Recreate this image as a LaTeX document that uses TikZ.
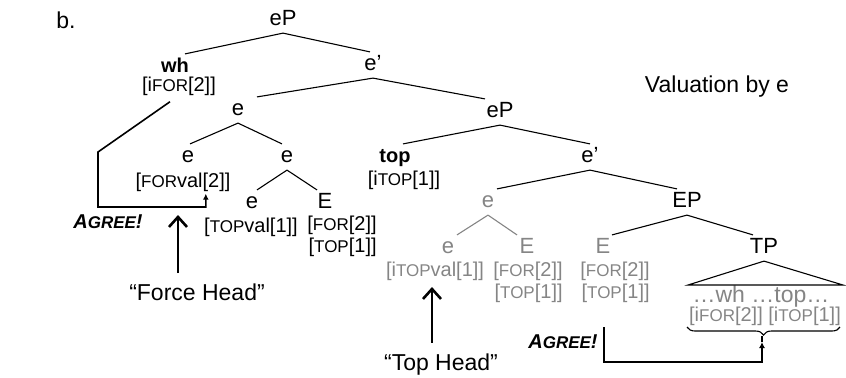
\documentclass[tikz,border=0pt]{standalone}
\usepackage{fontspec}
\setmainfont{Liberation Sans}
\usetikzlibrary{positioning, arrows.meta, calc, decorations.pathreplacing}

\definecolor{fadegray}{RGB}{133,133,133}

\newcommand{\catsize}{\fontsize{11}{13}\selectfont}
\newcommand{\featsize}{\fontsize{10}{11}\selectfont}
\newcommand{\smc}[1]{{\fontsize{8.5}{10}\selectfont #1}}

\begin{document}
\begin{tikzpicture}[x=0.5pt, y=-0.5pt,
  cat/.style={font=\catsize, inner xsep=1pt, inner ysep=1.4pt, text height=7.9pt, text depth=2pt},
  head/.style={cat, font=\fontsize{10}{12}\selectfont\bfseries},
  feat/.style={font=\featsize, inner sep=0pt, align=right},
  dim/.style={text=fadegray},
  note/.style={font=\fontsize{11.5}{13}\selectfont, inner sep=1pt},
  agreelbl/.style={font=\fontsize{10}{12}\selectfont\bfseries\itshape, inner sep=1pt},
  branch/.style={line width=0.55pt},
  dimbranch/.style={branch, draw=fadegray},
  agree/.style={line width=0.8pt, -{Latex[length=3pt,width=3pt]}},
  pointer/.style={line width=1.3pt, -{Straight Barb[length=5pt,width=9pt]}}]

\useasboundingbox (0,0) rectangle (846,377);

\node[note] (b) at (66,20) {b.};
\node[note] (val) at (717,87) {Valuation by e};

% upper part of the tree
\node[cat] (eProot) at (283,20) {eP};
\node[head] (wh) at (175,67) {wh};
\node[feat] (whf) at (179,86) {[i\smc{FOR}[2]]};
\node[cat] (ebar1) at (373,65) {e’};
\node[cat] (e1) at (238,110) {e};
\node[cat] (ea) at (188,157) {e};
\node[feat] (eaf) at (183,182) {[\smc{FOR}val[2]]};
\node[cat] (eb) at (287,157) {e};
\node[cat] (ec) at (252,203) {e};
\node[feat] (ecf) at (251,227) {[\smc{TOP}val[1]]};
\node[cat] (Eb) at (325,203) {E};
\node[feat] (Ebf) at (342,236) {[\smc{FOR}[2]]\\{}[\smc{TOP}[1]]};

% lower part
\node[cat] (eP2) at (500,112) {eP};
\node[head] (top) at (395,157) {top};
\node[feat] (topf) at (404,180) {[i\smc{TOP}[1]]};
\node[cat] (ebar2) at (590,157) {e’};
\node[cat, dim] (eg) at (488,202) {e};
\node[cat, dim] (egl) at (448,248) {e};
\node[feat, dim] (eglf) at (435,271) {[i\smc{TOP}val[1]]};
\node[cat, dim] (egr) at (527,248) {E};
\node[feat, dim] (egrf) at (528,282) {[\smc{FOR}[2]]\\{}[\smc{TOP}[1]]};
\node[cat] (EP) at (687,202) {EP};
\node[cat, dim] (Eg) at (603,248) {E};
\node[feat, dim] (Egf) at (615,282) {[\smc{FOR}[2]]\\{}[\smc{TOP}[1]]};
\node[cat] (TP) at (764,248) {TP};
\node[note, dim] (tpw) at (761,297) {…wh …top…};
\node[feat, dim] (tpf) at (765,316) {[i\smc{FOR}[2]] [i\smc{TOP}[1]]};

\coordinate (tpl) at (688,285);
\coordinate (tpr) at (843,285);

\draw[branch] (eProot.south) -- ($(wh.north)+(10,0)$);
\draw[branch] (eProot.south) -- ($(ebar1.north)+(-3,0)$);
\draw[branch] (ebar1.south) -- ($(e1.north)+(19,0)$);
\draw[branch] (ebar1.south) -- ($(eP2.north)+(-15,0)$);
\draw[branch] (e1.south) -- ($(ea.north)+(2,0)$);
\draw[branch] (e1.south) -- ($(eb.north)+(-5,0)$);
\draw[branch] (eb.south) -- ($(ec.north)+(5,0)$);
\draw[branch] (eb.south) -- ($(Eb.north)+(-8,0)$);
\draw[branch] (eP2.south) -- ($(top.north)+(8,0)$);
\draw[branch] (eP2.south) -- (ebar2.north);
\draw[branch] (ebar2.south) -- ($(eg.north)+(9,0)$);
\draw[branch] (ebar2.south) -- ($(EP.north)+(-10,0)$);
\draw[dimbranch] (eg.south) -- ($(egl.north)+(9,0)$);
\draw[dimbranch] (eg.south) -- ($(egr.north)+(-10,0)$);
\draw[branch] (EP.south) -- ($(Eg.north)+(9,0)$);
\draw[branch] (EP.south) -- ($(TP.north)+(-11,0)$);
\draw[branch] (TP.south) -- (tpl) -- (tpr) -- cycle;

% brace under the TP features
\coordinate (brl) at (687,327);
\coordinate (brr) at (840,327);
\coordinate (bracetip) at (762,335);
\draw[branch, decorate, decoration={brace, mirror, amplitude=4pt}] (brl) -- (brr);

% agreement paths
\node[agreelbl] (agreeA) at (108,222) {A\smc{GREE}!};
\node[agreelbl] (agreeB) at (563,342) {A\smc{GREE}!};

\coordinate (a1bend) at (98,152);
\coordinate (a1low) at (98,207);
\draw[agree] ($(whf.south)+(-9,6)$) -- (a1bend) -- (a1low) -| ($(eaf.south east)+(-25,2)$);

\coordinate (a2top) at (604,327);
\coordinate (a2low) at (604,362);
\coordinate (a2tip) at (762,342);
\draw[agree] (a2top) -- (a2low) -| (a2tip);
\draw[line width=0.6pt, densely dashed] (a2tip) -- (bracetip);

% head labels
\node[note] (force) at (197,292) {“Force Head”};
\node[note] (tophead) at (441,365) {“Top Head”};
\coordinate (fhtip) at (178,215);
\coordinate (thtip) at (432,287);
\draw[pointer, shorten <=4pt] (force.north -| fhtip) -- (fhtip);
\draw[pointer, shorten <=4.5pt] (tophead.north -| thtip) -- (thtip);
\end{tikzpicture}
\end{document}
